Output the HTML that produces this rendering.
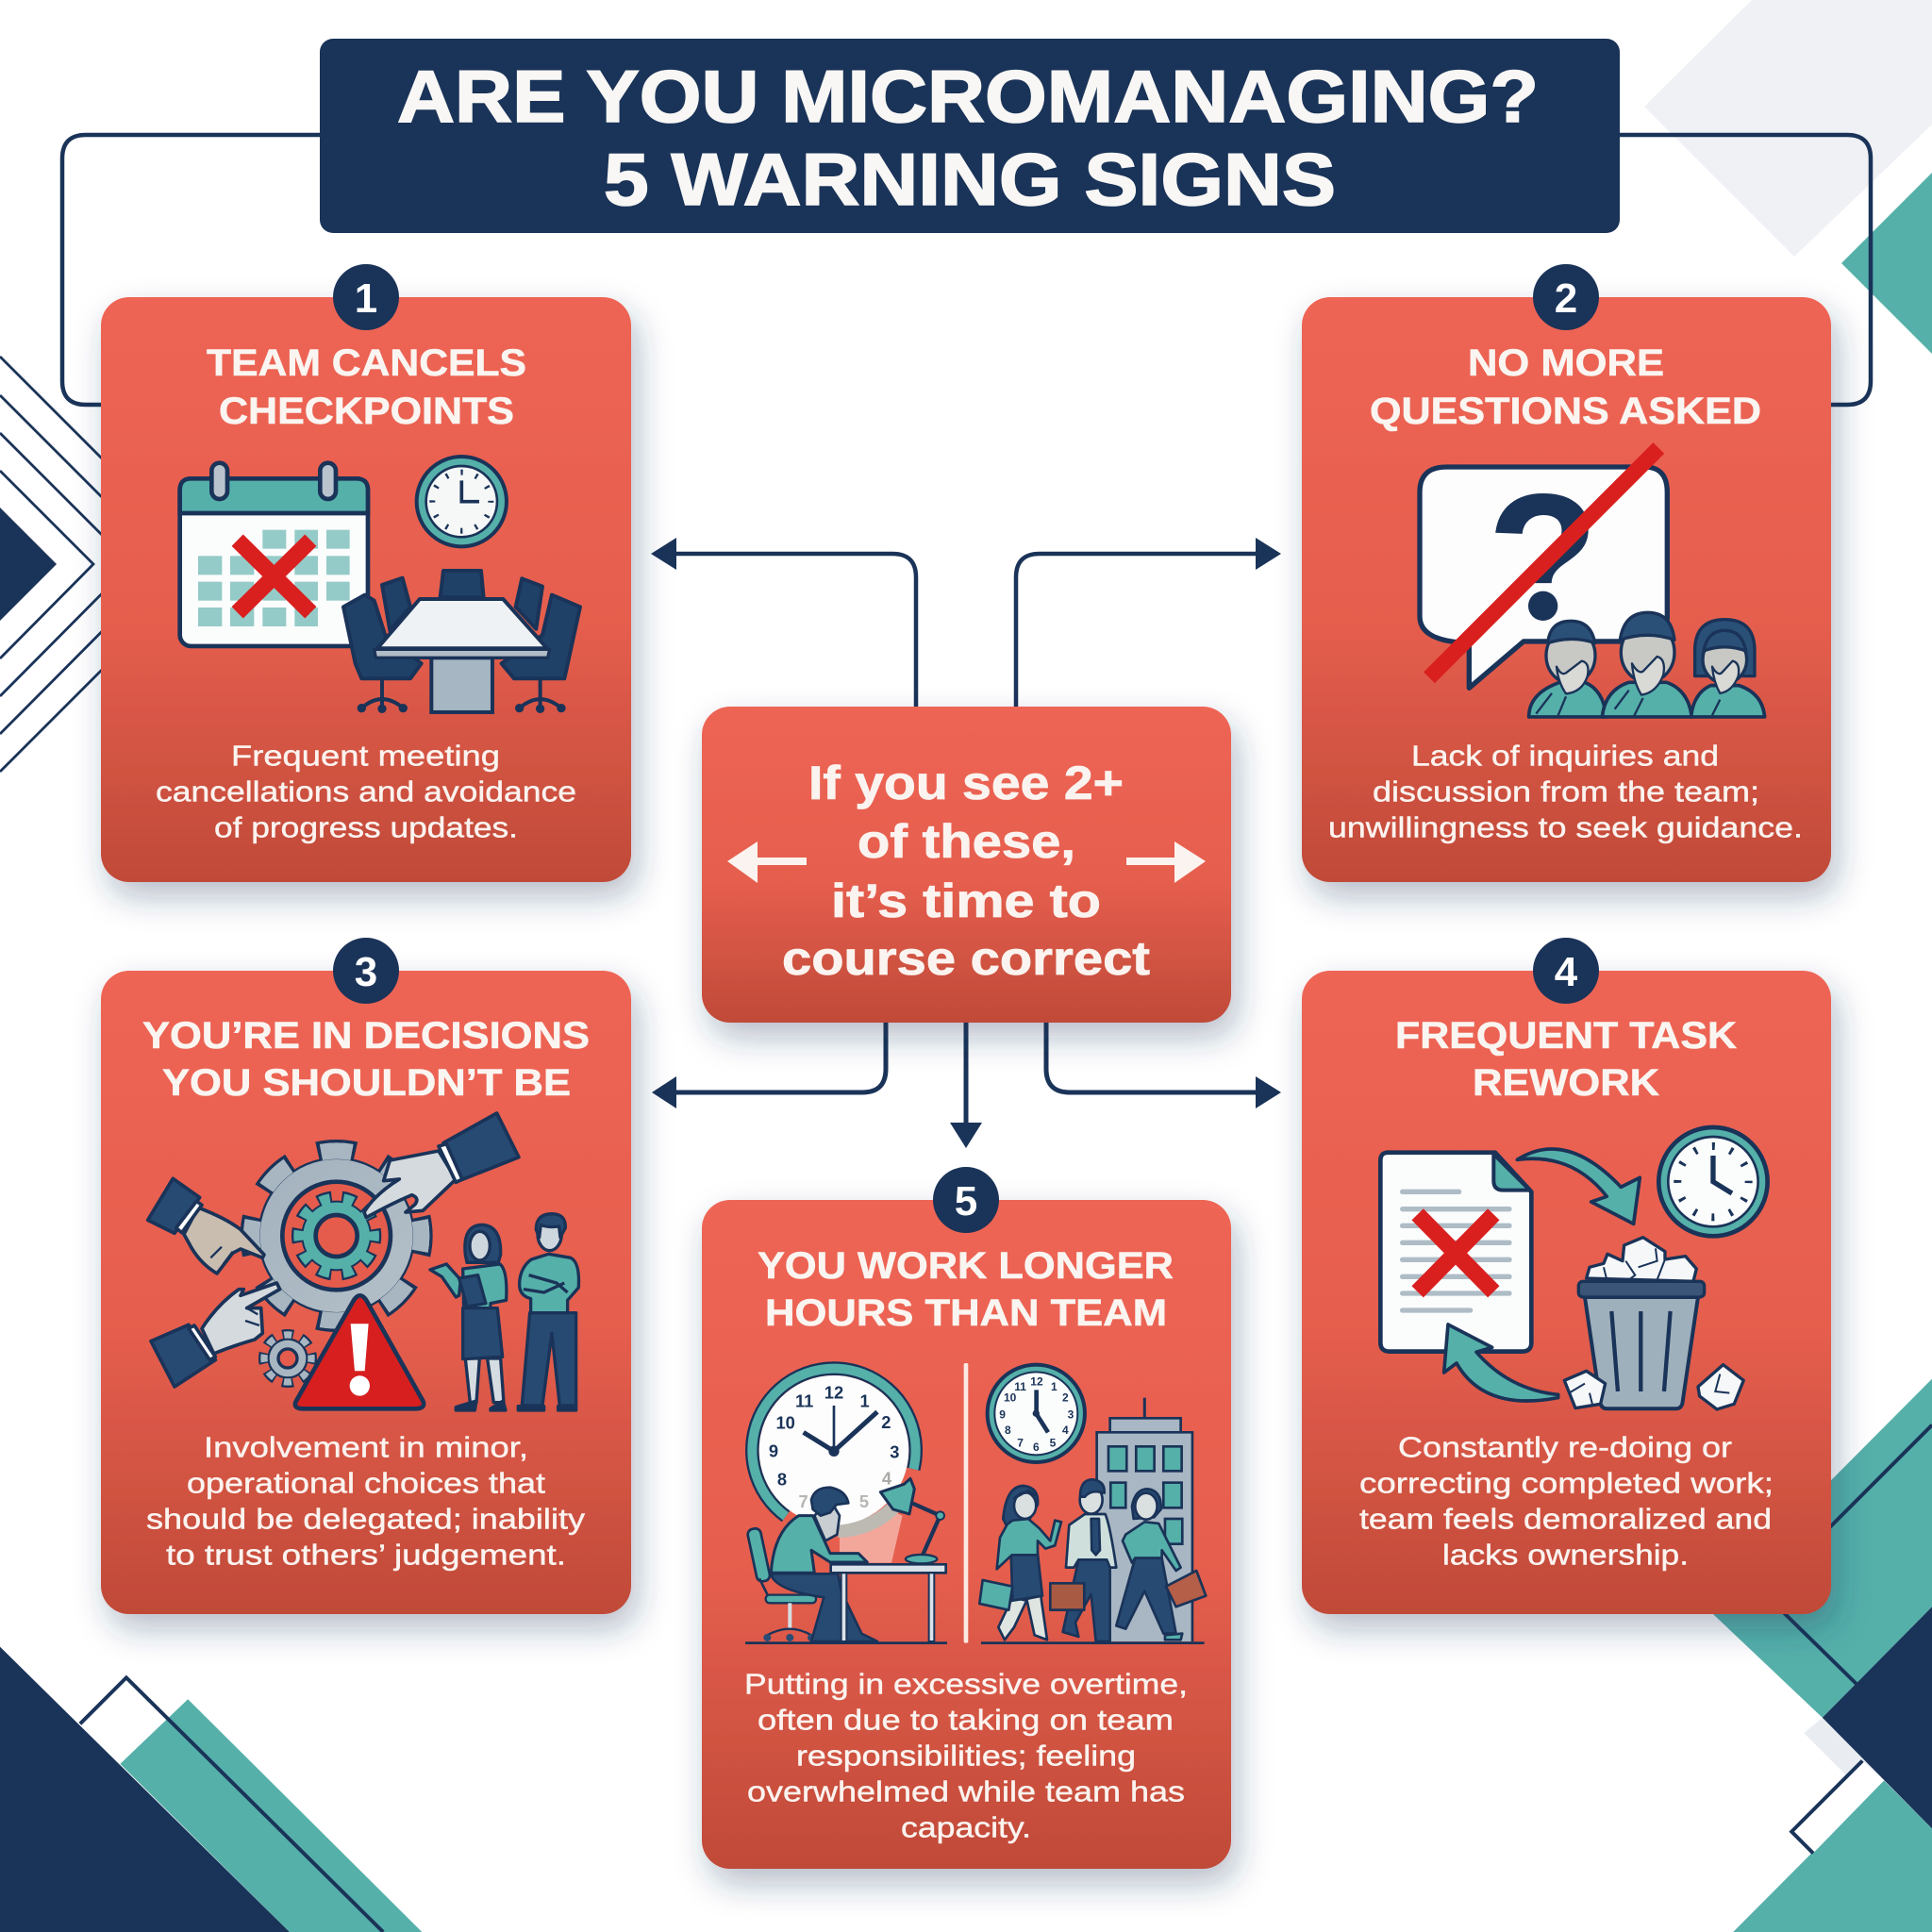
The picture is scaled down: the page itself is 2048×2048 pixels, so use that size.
<!DOCTYPE html>
<html><head><meta charset="utf-8"><style>
html,body{margin:0;padding:0;background:#fff}
svg{display:block}
.t{font-family:"Liberation Sans",sans-serif;font-weight:700;font-size:40px;fill:#faf5f1;stroke:#faf5f1;stroke-width:.6px}
.b{font-family:"Liberation Sans",sans-serif;font-size:31px;fill:#fbf3ef;stroke:#fbf3ef;stroke-width:.45px}
.g{font-family:"Liberation Sans",sans-serif;font-weight:700;font-size:55px;text-anchor:middle;fill:#1a3358}
.k{fill:none;stroke:#1a3358;stroke-linecap:butt}
.o{stroke:#1a3358;stroke-linejoin:round}
</style></head><body>
<svg xmlns="http://www.w3.org/2000/svg" width="2048" height="2048" viewBox="0 0 2048 2048">
<defs>
<linearGradient id="c" x1="0" y1="0" x2="0" y2="1"><stop offset="0" stop-color="#ee6554"/><stop offset=".55" stop-color="#e65e4e"/><stop offset="1" stop-color="#c04a38"/></linearGradient>
<linearGradient id="gr" x1="0" y1="0" x2="1" y2="1"><stop offset="0" stop-color="#a2b2be"/><stop offset="1" stop-color="#b4bfc8"/></linearGradient>
<filter id="s" x="-20%" y="-20%" width="140%" height="140%"><feDropShadow dx="7" dy="16" stdDeviation="17" flood-color="#1a3358" flood-opacity=".32"/></filter>
</defs>
<rect width="2048" height="2048" fill="#fff"/>

<!-- background decor -->
<polygon points="1743,113 1857,0 2048,0 2048,132 1902,272" fill="#eff1f5"/>
<polygon points="1952,279 2048,183 2048,375" fill="#55b0aa"/>
<g fill="none" stroke="#1a3358" stroke-width="2.8">
<polyline points="0,378 220,598 0,818"/>
<polyline points="0,419 179,598 0,778"/>
<polyline points="0,459 139,598 0,738"/>
<polyline points="0,499 99,598 0,698"/>
</g>
<polygon points="0,538 60,598 0,658" fill="#1a3358"/>
<g transform="translate(0,1024) scale(.6531)">
<polygon points="195,1295 305,1190 685,1568 470,1568" fill="#55b0aa"/>
<polygon points="0,1105 470,1568 0,1568" fill="#1a3358"/>
<polygon points="130,1230 205,1155 270,1222 195,1295" fill="#fff"/>
<polyline points="130,1230 205,1155 622,1568" fill="none" stroke="#1a3358" stroke-width="6"/>
</g>
<g transform="translate(1024,1024) scale(.6531)">
<polygon points="1568,670 1200,1040 1390,1220 1568,1040" fill="#55b0aa"/>
<polyline points="1568,745 1295,1018 1445,1165" fill="none" stroke="#1a3358" stroke-width="6"/>
<polygon points="1245,1568 1490,1322 1568,1400 1568,1568" fill="#55b0aa"/>
<polygon points="1360,1245 1392,1218 1490,1320 1460,1345" fill="#e9edf2"/>
<polygon points="1340,1405 1455,1290 1490,1322 1375,1440" fill="#fff"/>
<polygon points="1390,1220 1568,1040 1568,1400" fill="#1a3358"/>
<polyline points="1455,1290 1340,1405 1375,1440" fill="none" stroke="#1a3358" stroke-width="6"/>
</g>

<!-- connectors -->
<g class="k" stroke-width="4.5">
<path d="M339 143H91Q66 143 66 168V404Q66 429 91 429H110"/>
<path d="M1717 143H1958Q1983 143 1983 168V404Q1983 429 1958 429H1938"/>
<path d="M971 752V612Q971 587 946 587H712"/>
<path d="M1077 752V612Q1077 587 1102 587H1336"/>
<path d="M939 1082V1133Q939 1158 914 1158H712" stroke-width="5"/>
<path d="M1109 1082V1133Q1109 1158 1134 1158H1336" stroke-width="5"/>
<path d="M1024 1082V1195" stroke-width="5"/>
</g>
<g fill="#1a3358">
<polygon points="690,587 717,570 717,604"/>
<polygon points="1358,587 1331,570 1331,604"/>
<polygon points="691,1158 717,1141 717,1175"/>
<polygon points="1358,1158 1331,1141 1331,1175"/>
<polygon points="1007,1190 1041,1190 1024,1217"/>
</g>

<!-- title -->
<rect x="339" y="41" width="1378" height="206" rx="14" fill="#1a3358"/>
<g font-family="Liberation Sans, sans-serif" font-weight="700" font-size="78" fill="#f8f7f5" stroke="#f8f7f5" stroke-width="1.6">
<text x="421" y="129" textLength="1210" lengthAdjust="spacingAndGlyphs">ARE YOU MICROMANAGING?</text>
<text x="640" y="217" textLength="776" lengthAdjust="spacingAndGlyphs">5 WARNING SIGNS</text>
</g>

<!-- cards -->
<g fill="url(#c)" filter="url(#s)">
<rect x="107" y="315" width="562" height="620" rx="30"/>
<rect x="1380" y="315" width="561" height="620" rx="30"/>
<rect x="107" y="1029" width="562" height="682" rx="30"/>
<rect x="1380" y="1029" width="561" height="682" rx="30"/>
<rect x="744" y="749" width="561" height="335" rx="30"/>
<rect x="744" y="1272" width="561" height="709" rx="30"/>
</g>

<!-- badges -->
<g fill="#1a3358"><circle cx="388" cy="315" r="35"/><circle cx="1660" cy="315" r="35"/><circle cx="388" cy="1029" r="35"/><circle cx="1660" cy="1029" r="35"/><circle cx="1024" cy="1272" r="35"/></g>
<g font-family="Liberation Sans, sans-serif" font-weight="700" font-size="44" fill="#fff" text-anchor="middle">
<text x="388" y="331">1</text><text x="1660" y="331">2</text><text x="388" y="1045">3</text><text x="1660" y="1045">4</text><text x="1024" y="1288">5</text></g>

<!-- card text -->
<g class="t">
<text x="219" y="398" textLength="339" lengthAdjust="spacingAndGlyphs">TEAM CANCELS</text>
<text x="232" y="449" textLength="313" lengthAdjust="spacingAndGlyphs">CHECKPOINTS</text>
<text x="1556" y="398" textLength="208" lengthAdjust="spacingAndGlyphs">NO MORE</text>
<text x="1452" y="449" textLength="415" lengthAdjust="spacingAndGlyphs">QUESTIONS ASKED</text>
<text x="151" y="1111" textLength="474" lengthAdjust="spacingAndGlyphs">YOU’RE IN DECISIONS</text>
<text x="172" y="1161" textLength="433" lengthAdjust="spacingAndGlyphs">YOU SHOULDN’T BE</text>
<text x="1479" y="1111" textLength="362" lengthAdjust="spacingAndGlyphs">FREQUENT TASK</text>
<text x="1561" y="1161" textLength="198" lengthAdjust="spacingAndGlyphs">REWORK</text>
<text x="803" y="1355" textLength="441" lengthAdjust="spacingAndGlyphs">YOU WORK LONGER</text>
<text x="811" y="1405" textLength="426" lengthAdjust="spacingAndGlyphs">HOURS THAN TEAM</text>
</g>
<g class="b" transform="translate(0,-1.5)">
<text x="245" y="813" textLength="285" lengthAdjust="spacingAndGlyphs">Frequent meeting</text>
<text x="165" y="851" textLength="446" lengthAdjust="spacingAndGlyphs">cancellations and avoidance</text>
<text x="227" y="889" textLength="322" lengthAdjust="spacingAndGlyphs">of progress updates.</text>
<text x="1496" y="813" textLength="326" lengthAdjust="spacingAndGlyphs">Lack of inquiries and</text>
<text x="1455" y="851" textLength="410" lengthAdjust="spacingAndGlyphs">discussion from the team;</text>
<text x="1408" y="889" textLength="503" lengthAdjust="spacingAndGlyphs">unwillingness to seek guidance.</text>
<text x="216" y="1546" textLength="344" lengthAdjust="spacingAndGlyphs">Involvement in minor,</text>
<text x="198" y="1584" textLength="380" lengthAdjust="spacingAndGlyphs">operational choices that</text>
<text x="155" y="1622" textLength="465" lengthAdjust="spacingAndGlyphs">should be delegated; inability</text>
<text x="176" y="1660" textLength="424" lengthAdjust="spacingAndGlyphs">to trust others’ judgement.</text>
<text x="1482" y="1546" textLength="354" lengthAdjust="spacingAndGlyphs">Constantly re-doing or</text>
<text x="1441" y="1584" textLength="439" lengthAdjust="spacingAndGlyphs">correcting completed work;</text>
<text x="1441" y="1622" textLength="437" lengthAdjust="spacingAndGlyphs">team feels demoralized and</text>
<text x="1529" y="1660" textLength="261" lengthAdjust="spacingAndGlyphs">lacks ownership.</text>
<text x="789" y="1797" textLength="470" lengthAdjust="spacingAndGlyphs">Putting in excessive overtime,</text>
<text x="803" y="1835" textLength="441" lengthAdjust="spacingAndGlyphs">often due to taking on team</text>
<text x="844" y="1873" textLength="360" lengthAdjust="spacingAndGlyphs">responsibilities; feeling</text>
<text x="792" y="1911" textLength="464" lengthAdjust="spacingAndGlyphs">overwhelmed while team has</text>
<text x="955" y="1949" textLength="138" lengthAdjust="spacingAndGlyphs">capacity.</text>
</g>

<!-- center text -->
<g font-family="Liberation Sans, sans-serif" font-weight="700" font-size="50" fill="#fbf3ef" stroke="#fbf3ef" stroke-width=".8">
<text x="857" y="847" textLength="334" lengthAdjust="spacingAndGlyphs">If you see 2+</text>
<text x="909" y="909" textLength="231" lengthAdjust="spacingAndGlyphs">of these,</text>
<text x="881" y="972" textLength="286" lengthAdjust="spacingAndGlyphs">it’s time to</text>
<text x="829" y="1033" textLength="390" lengthAdjust="spacingAndGlyphs">course correct</text>
</g>
<g fill="#fbf3ef">
<polygon points="771,913 803,892 803,909 855,909 855,917 803,917 803,936"/>
<polygon points="1278,913 1245,892 1245,909 1194,909 1194,917 1245,917 1245,936"/>
</g>

<!-- ICON 1 -->
<g transform="translate(170,470) scale(.3333)">
<rect x="62" y="112" width="598" height="533" rx="36" fill="#fbfcfc" stroke="#1a3358" stroke-width="14"/>
<path d="M62 222V148Q62 112 98 112H624Q660 112 660 148V222Z" fill="#55b0aa" stroke="#1a3358" stroke-width="14"/>
<g fill="#b9c3cd" stroke="#1a3358" stroke-width="14"><rect x="163" y="62" width="50" height="115" rx="25"/><rect x="508" y="62" width="50" height="115" rx="25"/></g>
<g fill="#94cbc8">
<rect x="325" y="275" width="75" height="60"/><rect x="427" y="275" width="74" height="60"/><rect x="528" y="275" width="74" height="60"/>
<rect x="120" y="358" width="76" height="60"/><rect x="222" y="358" width="76" height="60"/><rect x="325" y="358" width="75" height="60"/><rect x="427" y="358" width="74" height="60"/><rect x="528" y="358" width="74" height="60"/>
<rect x="120" y="440" width="76" height="60"/><rect x="222" y="440" width="76" height="60"/><rect x="325" y="440" width="75" height="60"/><rect x="427" y="440" width="74" height="60"/><rect x="528" y="440" width="74" height="60"/>
<rect x="120" y="522" width="76" height="60"/><rect x="222" y="522" width="76" height="60"/><rect x="325" y="522" width="75" height="60"/><rect x="427" y="522" width="74" height="60"/>
</g>
<path d="M245 308L478 538M478 308L245 538" stroke="#d9201f" stroke-width="52" fill="none"/>
<circle cx="958" cy="185" r="143" fill="#55b0aa" stroke="#1a3358" stroke-width="12"/>
<circle cx="958" cy="185" r="113" fill="#f6f8f8" stroke="#1a3358" stroke-width="8"/>
<circle cx="958" cy="185" r="93" fill="none" stroke="#1a3358" stroke-width="18" stroke-dasharray="7 41.7" stroke-dashoffset="3.5"/>
<path d="M958 118V185H1014" fill="none" stroke="#1a3358" stroke-width="11"/>
<g fill="#1f4168" class="o" stroke-width="12">
<path d="M890 490L900 405H1020L1028 490Z"/>
<path d="M705 450L770 428L795 520L730 595Z"/>
<path d="M1130 520L1150 430L1215 455L1195 590Z"/>
<path d="M582 520L650 482L680 500L715 610L830 700L795 748H640L620 700Z"/>
<path d="M1215 610L1245 482L1335 520L1285 748H1125L1085 700Z"/>
</g>
<g fill="none" stroke="#1a3358" stroke-width="12"><path d="M705 748V835M640 842Q705 785 772 842"/><path d="M1208 748V835M1142 842Q1208 785 1275 842"/></g>
<g fill="#1a3358"><circle cx="640" cy="842" r="14"/><circle cx="705" cy="844" r="14"/><circle cx="772" cy="842" r="14"/><circle cx="1142" cy="842" r="14"/><circle cx="1208" cy="844" r="14"/><circle cx="1275" cy="842" r="14"/></g>
<rect x="862" y="682" width="194" height="173" fill="#a6b6c2" stroke="#1a3358" stroke-width="12"/>
<polygon points="680,655 1238,655 1232,682 685,682" fill="#b0bcc6" class="o" stroke-width="10"/>
<polygon points="825,495 1090,495 1230,652 690,652" fill="#eef2f4" class="o" stroke-width="12"/>
</g>

<!-- ICON 2 -->
<g transform="translate(1480,460) scale(.3333)">
<path d="M160 105H790Q862 105 862 185V580Q862 660 790 660H405L232 808V665Q75 660 75 580V185Q75 105 160 105Z" fill="#fdfdfd" stroke="#1a3358" stroke-width="16" stroke-linejoin="round"/>
<text x="467" y="590" font-family="Liberation Sans, sans-serif" font-weight="700" font-size="570" text-anchor="middle" fill="#1a3358" stroke="#1a3358" stroke-width="6">?</text>
<rect x="395" y="498" width="110" height="100" fill="#fdfdfd"/>
<circle cx="467" cy="547" r="47" fill="#1a3358"/>
<path d="M835 45L105 775" stroke="#d9201f" stroke-width="50"/>
<g fill="#55b0aa" class="o" stroke-width="11">
<path d="M422 900Q422 825 520 790H600Q660 815 668 900Z"/>
<path d="M655 900Q665 815 740 790H860Q930 815 940 900Z"/>
<path d="M938 900Q945 825 1000 800H1090Q1165 825 1172 900Z"/>
</g>
<g class="o" stroke-width="10">
<path d="M950 770V680Q955 590 1045 590Q1135 590 1140 680V770Z" fill="#2a5078"/>
<ellipse cx="555" cy="705" rx="78" ry="88" fill="#c8c8c4"/>
<ellipse cx="800" cy="695" rx="85" ry="95" fill="#c8c8c4"/>
<ellipse cx="1045" cy="718" rx="70" ry="75" fill="#c8c8c4"/>
<path d="M482 665Q490 595 555 595Q620 595 632 665Q560 640 482 665Z" fill="#2a5078"/>
<path d="M712 655Q725 568 800 568Q875 568 885 655Q800 625 712 655Z" fill="#2a5078"/>
<path d="M978 690Q990 625 1045 625Q1100 625 1112 690Q1045 665 978 690Z" fill="#2a5078"/>
</g>
<g fill="#d9d9d5" class="o" stroke-width="7">
<path d="M510 740Q525 770 540 760L590 722Q618 728 608 772Q590 822 540 826Q515 790 510 740Z"/>
<path d="M750 730Q770 765 785 755L830 708Q858 715 850 765Q830 822 780 830Q755 790 750 730Z"/>
<path d="M1005 740Q1022 770 1035 760L1070 722Q1095 728 1088 770Q1070 818 1030 825Q1010 790 1005 740Z"/>
</g>
<path d="M445 890L495 825M515 895L540 835M695 875L740 815M755 900L785 840M945 860L975 815M1005 895L1030 845" stroke="#1a3358" stroke-width="7" fill="none"/>
</g>

<!-- ICON 3 -->
<g transform="translate(140,1170) scale(.3333)">
<g fill="none">
<circle cx="650" cy="420" r="270" stroke="#1a3358" stroke-width="72" stroke-dasharray="120 92" stroke-dashoffset="60"/>
<circle cx="650" cy="420" r="270" stroke="#a8b6c1" stroke-width="52" stroke-dasharray="98 114" stroke-dashoffset="49"/>
</g>
<circle cx="650" cy="420" r="250" fill="#1a3358"/>
<circle cx="650" cy="420" r="243" fill="url(#gr)"/>
<circle cx="650" cy="420" r="270" fill="none" stroke="#a8b6c1" stroke-width="52" stroke-dasharray="98 114" stroke-dashoffset="49"/>
<circle cx="650" cy="420" r="172" fill="#e55c4c" stroke="#1a3358" stroke-width="14"/>
<circle cx="650" cy="420" r="120" fill="none" stroke="#1a3358" stroke-width="46" stroke-dasharray="44 31.4" stroke-dashoffset="22"/>
<circle cx="650" cy="420" r="112" fill="#1a3358"/>
<circle cx="650" cy="420" r="120" fill="none" stroke="#55b0aa" stroke-width="32" stroke-dasharray="32 43.4" stroke-dashoffset="16"/>
<circle cx="650" cy="420" r="106" fill="#55b0aa"/>
<circle cx="650" cy="420" r="66" fill="#e55c4c" stroke="#1a3358" stroke-width="14"/>
<circle cx="495" cy="810" r="75" fill="none" stroke="#1a3358" stroke-width="36" stroke-dasharray="34 24.9" stroke-dashoffset="17"/>
<circle cx="495" cy="810" r="65" fill="#1a3358"/>
<circle cx="495" cy="810" r="75" fill="none" stroke="#a8b6c1" stroke-width="22" stroke-dasharray="24 34.9" stroke-dashoffset="12"/>
<circle cx="495" cy="810" r="58" fill="#a8b6c1"/>
<circle cx="495" cy="810" r="30" fill="#e55c4c" stroke="#1a3358" stroke-width="10"/>
<path d="M725 610Q735 610 745 625L925 945Q935 968 905 970H540Q510 968 522 945L705 625Q715 610 725 610Z" fill="#d71f1f" stroke="#1a3358" stroke-width="14"/>
<path d="M695 700H752L740 850H708Z" fill="#fff"/><circle cx="724" cy="897" r="32" fill="#fff"/>
<!-- hands -->
<g class="o" stroke-width="11">
<path d="M990 125L1160 30L1230 170L1040 245Z" fill="#274a73"/>
<path d="M975 150L820 180L800 245L850 240Q770 290 738 345L745 362Q820 320 890 290Q915 300 900 320L870 345L925 340L1030 240Z" fill="#d5dade"/>
<path d="M975 135L1000 128L1050 240L1030 250Z" fill="#fff"/>
<path d="M50 370L130 238L215 298L135 412Z" fill="#274a73"/>
<path d="M210 330Q300 365 345 400L420 480L415 490L345 462L320 475L270 540Q220 510 190 460L165 415Z" fill="#c9bdb0"/>
<path d="M140 395L205 310L222 322L158 410Z" fill="#fff"/>
<path d="M60 755L180 703L265 815L135 900Z" fill="#274a73"/>
<path d="M222 715Q270 640 340 590L355 590L345 610L460 570L470 590L365 650L410 650L415 730L390 750Q320 770 260 795Z" fill="#d5dade"/>
<path d="M180 715L198 705L265 805L247 815Z" fill="#fff"/>
</g>
<path d="M250 490L285 455M290 510L320 470M365 650L400 670M360 690L405 705" stroke="#1a3358" stroke-width="7" fill="none"/>
<!-- woman -->
<g class="o" stroke-width="10">
<path d="M1060 810H1105L1095 950H1075ZM1130 810H1172L1182 950H1150Z" fill="#d6dde2"/>
<path d="M1060 480Q1050 385 1115 385Q1175 390 1172 480L1165 505H1065Z" fill="#274a73"/>
<ellipse cx="1106" cy="452" rx="32" ry="46" fill="#cfd7de"/>
<path d="M1052 525L1170 510Q1195 530 1190 625L1140 635V650H1055Z" fill="#55b0aa"/>
<path d="M1052 650H1162L1178 805L1052 812Z" fill="#274a73"/>
<path d="M1040 610L1030 615L985 550L948 528L1000 510L1045 560Z" fill="#55b0aa"/>
<path d="M1040 555L1100 545L1125 635L1065 645Z" fill="#274a73"/>
<path d="M1030 965L1095 945L1090 975H1030ZM1140 970L1180 945L1188 975H1140Z" fill="#1a3358"/>
<path d="M1265 665H1412L1412 960H1360L1335 730L1305 960H1240Z" fill="#274a73"/>
<path d="M1228 962H1310V975H1228ZM1355 962H1412V975H1355Z" fill="#1a3358"/>
<ellipse cx="1328" cy="415" rx="38" ry="52" fill="#cfd7de"/>
<path d="M1285 400Q1285 350 1335 350Q1380 350 1378 395L1362 425L1358 390Q1320 395 1300 385L1295 425Z" fill="#274a73"/>
<path d="M1270 495L1325 478L1395 490Q1425 505 1420 585L1385 625L1385 665H1268V620Q1230 610 1232 570Q1235 520 1270 495Z" fill="#55b0aa"/>
<path d="M1262 545L1350 570L1385 600M1245 590L1310 600L1375 570" fill="none"/>
</g>
</g>

<!-- ICON 4 -->
<g transform="translate(1440,1180) scale(.3333)">
<path d="M95 125H435L550 250V730Q550 758 520 758H100Q70 758 70 730V150Q70 125 95 125Z" fill="#fbfcfc" stroke="#1a3358" stroke-width="14" stroke-linejoin="round"/>
<path d="M430 130V215Q430 245 460 245H545Z" fill="#55b0aa" class="o" stroke-width="12"/>
<g stroke="#aebcc6" stroke-width="16" stroke-linecap="round">
<path d="M140 250H320M140 305H480M140 358H480M140 412H480M140 466H480M140 520H480M140 573H480M140 627H356"/></g>
<path d="M188 322L430 568M430 322L188 568" stroke="#d9201f" stroke-width="52" fill="none"/>
<path d="M505 148Q660 50 835 235L895 205L875 352L740 282L790 265Q680 125 505 148Z" fill="#55b0aa" class="o" stroke-width="11"/>
<path d="M635 895Q480 880 375 760L425 745L285 672L272 825L312 795Q400 950 635 905Z" fill="#55b0aa" class="o" stroke-width="11"/>
<circle cx="1128" cy="218" r="173" fill="#55b0aa" stroke="#1a3358" stroke-width="14"/>
<circle cx="1128" cy="218" r="143" fill="#fbfcfc" stroke="#1a3358" stroke-width="8"/>
<circle cx="1128" cy="218" r="113" fill="none" stroke="#1a3358" stroke-width="24" stroke-dasharray="9 50.2" stroke-dashoffset="4.5"/>
<path d="M1128 135V218L1188 255" fill="none" stroke="#1a3358" stroke-width="16"/>
<path d="M725 525L735 490L780 478L792 448L840 470L845 420L905 395L975 440L975 465L1040 455L1075 495L1065 535Z" fill="#f5f7f8" class="o" stroke-width="10"/>
<path d="M850 470L880 515L860 530M945 430L950 470L890 490M975 465L950 530M780 490L790 530" fill="none" stroke="#1a3358" stroke-width="6"/>
<path d="M720 585L770 925Q775 940 790 940H1010Q1025 940 1030 925L1080 585Z" fill="#9fb0bd" class="o" stroke-width="12"/>
<rect x="700" y="535" width="400" height="50" rx="14" fill="#3a5577" stroke="#1a3358" stroke-width="10"/>
<path d="M805 630L825 885M898 630V885M992 630L972 885" stroke="#1a3358" stroke-width="13" fill="none"/>
<path d="M655 850L725 820L785 860L770 925L690 938Z" fill="#f5f7f8" class="o" stroke-width="10"/>
<path d="M1080 870L1160 800L1225 850L1195 925L1140 942L1085 900Z" fill="#f5f7f8" class="o" stroke-width="10"/>
<path d="M670 890L720 860M735 890L745 930M1150 830L1135 885L1180 890" fill="none" stroke="#1a3358" stroke-width="6"/>
</g>

<!-- ICON 5 -->
<g transform="translate(780,1430) scale(.3333)">
<polygon points="480,510 530,530 495,680 330,680 330,590" fill="#f3a79b"/>
<path d="M159 532A260 260 0 1 1 565 382" fill="none" stroke="#1a3358" stroke-width="44"/>
<path d="M159 532A260 260 0 1 1 565 382" fill="none" stroke="#55b0aa" stroke-width="30"/>
<path d="M325 578A255 255 0 0 0 515 490" fill="none" stroke="#bdb9b3" stroke-width="44"/>
<circle cx="312" cy="322" r="238" fill="#fdfdfd"/>
<g class="g">
<text x="312" y="157">12</text><text x="410" y="184">1</text><text x="478" y="252">2</text><text x="505" y="346">3</text><text x="147" y="434">8</text><text x="120" y="344">9</text><text x="158" y="254">10</text><text x="218" y="185">11</text>
<text x="480" y="431" style="fill:#a9a9a6">4</text><text x="408" y="504" style="fill:#b5b5b2">5</text><text x="215" y="504" style="fill:#b5b5b2">7</text>
</g>
<path d="M312 325L215 265M312 325L450 200" stroke="#1a3358" stroke-width="15" fill="none"/>
<path d="M312 325V180" stroke="#1a3358" stroke-width="8"/><circle cx="312" cy="325" r="17" fill="#1a3358"/>
<path d="M560 490L650 530L590 665" fill="none" stroke="#1a3358" stroke-width="13"/>
<circle cx="650" cy="530" r="13" fill="#55b0aa" stroke="#1a3358" stroke-width="6"/>
<polygon points="460,455 535,430 555,412 568,445 552,525 500,510" fill="#55b0aa" class="o" stroke-width="9"/>
<ellipse cx="590" cy="668" rx="50" ry="14" fill="#55b0aa" stroke="#1a3358" stroke-width="7"/>
<!-- chair -->
<rect x="52" y="570" width="42" height="170" rx="18" transform="rotate(-12 73 655)" fill="#55b0aa" stroke="#1a3358" stroke-width="8"/>
<path d="M75 730L105 790" stroke="#1a3358" stroke-width="8"/>
<rect x="95" y="782" width="160" height="26" rx="12" fill="#55b0aa" stroke="#1a3358" stroke-width="7"/>
<path d="M172 808V890" stroke="#d6dde2" stroke-width="12"/>
<path d="M100 910Q172 870 240 910" fill="none" stroke="#1a3358" stroke-width="7"/>
<g fill="#2a4d75"><circle cx="100" cy="918" r="12"/><circle cx="172" cy="918" r="12"/><circle cx="240" cy="918" r="12"/></g>
<!-- man -->
<path d="M115 715H325L335 770L400 905L450 930H240L280 790Q140 770 115 725Z" fill="#274a73" class="o" stroke-width="8"/>
<path d="M112 712Q120 580 200 530L245 530L300 650L390 650L418 678H300L240 640L250 712Z" fill="#55b0aa" class="o" stroke-width="9"/>
<path d="M250 530L300 480L330 530L322 590L285 610Z" fill="#c8ced2" class="o" stroke-width="8"/>
<path d="M240 480Q250 440 300 440Q350 450 358 490L320 495L300 520L270 530L245 510Z" fill="#274a73" class="o" stroke-width="8"/>
<rect x="302" y="685" width="366" height="27" fill="#dbe3ea" stroke="#1a3358" stroke-width="8"/>
<rect x="335" y="712" width="17" height="218" fill="#dbe3ea" stroke="#1a3358" stroke-width="6"/>
<rect x="614" y="712" width="17" height="218" fill="#dbe3ea" stroke="#1a3358" stroke-width="6"/>
<path d="M30 935H672M780 935H1490" stroke="#1a3358" stroke-width="8"/>
<rect x="725" y="45" width="14" height="890" rx="5" fill="#fbe9e2"/>
<!-- right clock -->
<circle cx="955" cy="205" r="155" fill="#55b0aa" stroke="#1a3358" stroke-width="12"/>
<circle cx="955" cy="205" r="132" fill="#fbfcfc" stroke="#1a3358" stroke-width="6"/>
<g class="g" style="font-size:36px">
<text x="957" y="115">12</text><text x="1012" y="132">1</text><text x="1048" y="167">2</text><text x="1065" y="220">3</text><text x="1048" y="270">4</text><text x="1008" y="310">5</text><text x="955" y="324">6</text><text x="905" y="310">7</text><text x="865" y="270">8</text><text x="848" y="220">9</text><text x="872" y="167">10</text><text x="905" y="132">11</text></g>
<path d="M956 205V130M955 205L993 265" stroke="#1a3358" stroke-width="14" fill="none"/><circle cx="955" cy="205" r="11" fill="#1a3358"/>
<!-- building -->
<path d="M1300 155V220" stroke="#1a3358" stroke-width="9"/>
<rect x="1190" y="220" width="225" height="45" fill="#a8b7c3" stroke="#1a3358" stroke-width="8"/>
<path d="M1148 930V265H1452V930" fill="#a8b7c3" stroke="#1a3358" stroke-width="8"/>
<g fill="#55b0aa" stroke="#1a3358" stroke-width="8">
<rect x="1185" y="310" width="58" height="78"/><rect x="1273" y="310" width="58" height="78"/><rect x="1360" y="310" width="58" height="78"/>
<rect x="1192" y="425" width="48" height="80"/><rect x="1360" y="425" width="58" height="80"/><rect x="1365" y="540" width="55" height="80"/></g>
<!-- people right -->
<g class="o" stroke-width="8">
<path d="M880 790L835 885L855 925L885 885L925 800Z" fill="#dfe6e2"/>
<path d="M925 795L950 910L990 925L970 785Z" fill="#dfe6e2"/>
<path d="M875 650H960L975 785L880 800Z" fill="#274a73"/>
<path d="M870 545L930 540L965 570L1000 610L1015 545L1035 550L1015 625L985 635L960 610V655H878L830 700L840 600Z" fill="#55b0aa"/>
<path d="M850 540Q860 435 915 435Q965 440 960 495L935 540L880 545L860 560Z" fill="#274a73"/>
<ellipse cx="920" cy="498" rx="35" ry="42" fill="#dadfe0"/>
<path d="M885 475Q920 445 955 465L930 450Z" fill="#274a73"/>
<path d="M785 735L880 755L868 830L775 810Z" fill="#55b0aa"/>
<path d="M1090 670H1190L1190 930H1145L1130 780L1080 870L1090 915L1040 900Z" fill="#274a73"/>
<path d="M1050 695L1060 560L1110 525L1175 525Q1190 560 1210 695H1190L1180 670H1090L1075 695Z" fill="#cfe0dc"/>
<path d="M1130 540L1155 540L1158 640L1145 655L1132 640Z" fill="#274a73"/>
<ellipse cx="1130" cy="480" rx="36" ry="44" fill="#dadfe0"/>
<path d="M1095 470Q1095 415 1135 415Q1175 420 1172 458Q1130 445 1110 470Z" fill="#274a73"/>
<rect x="1000" y="745" width="108" height="85" fill="#a85a42"/>
<path d="M1260 500Q1270 445 1310 445Q1355 450 1352 510L1330 535L1265 540Z" fill="#274a73"/>
<ellipse cx="1305" cy="500" rx="35" ry="42" fill="#dadfe0"/>
<path d="M1240 590L1300 550L1345 555L1415 695L1400 705L1355 640L1355 665H1270L1260 680L1230 610Z" fill="#55b0aa"/>
<path d="M1270 665H1355L1400 905H1360L1300 770L1240 890L1210 880Z" fill="#274a73"/>
<path d="M1365 910L1420 905L1415 925H1365Z" fill="#55b0aa"/>
<path d="M1368 755L1465 705L1495 785L1400 820Z" fill="#b55e48"/>
</g>
</g>
</svg>
</body></html>
